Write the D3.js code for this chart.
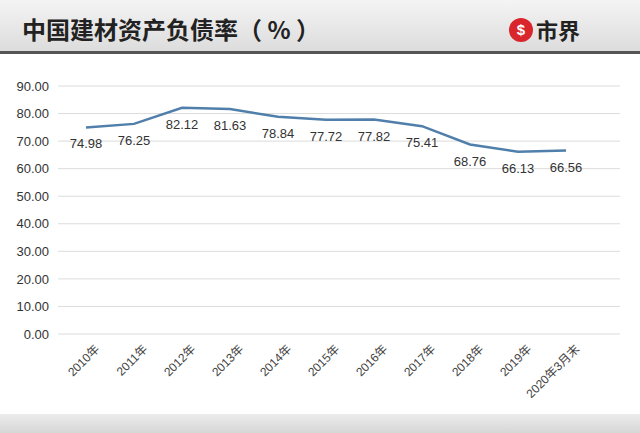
<!DOCTYPE html>
<html><head><meta charset="utf-8">
<script src="https://cdn.jsdelivr.net/npm/d3@7"></script>
<style>body{margin:0;background:#fff;font-family:"Liberation Sans",Arial,sans-serif;}</style>
</head><body>
<script>
var categories = ["2010年","2011年","2012年","2013年","2014年","2015年","2016年","2017年","2018年","2019年","2020年3月末"];
var values = [74.98, 76.25, 82.12, 81.63, 78.84, 77.72, 77.82, 75.41, 68.76, 66.13, 66.56];
var yTicks = [0,10,20,30,40,50,60,70,80,90];

var W = 640, H = 433;
var svg = d3.select("body").append("svg").attr("width", W).attr("height", H);

// header band
var grad = svg.append("defs").append("linearGradient").attr("id","hg").attr("x1",0).attr("y1",0).attr("x2",0).attr("y2",1);
grad.append("stop").attr("offset","0%").attr("stop-color","#f4f4f4");
grad.append("stop").attr("offset","100%").attr("stop-color","#dcdcdc");
svg.append("rect").attr("width", W).attr("height", 52).attr("fill","url(#hg)");
svg.append("rect").attr("y", 51).attr("width", W).attr("height", 3).attr("fill","#555");
svg.append("text").attr("x", 22).attr("y", 39).attr("font-size", 24).attr("font-weight","bold")
  .attr("font-family","'Noto Sans CJK SC',sans-serif").attr("fill","#222").text("中国建材资产负债率（ % ）");
svg.append("circle").attr("cx", 521).attr("cy", 30).attr("r", 12).attr("fill","#d9262c");
svg.append("text").attr("x", 521).attr("y", 35).attr("text-anchor","middle").attr("font-size",15).attr("font-weight","bold").attr("fill","#fff").text("$");
svg.append("text").attr("x", 536).attr("y", 39).attr("font-size", 22).attr("font-weight","bold")
  .attr("font-family","'Noto Sans CJK SC',sans-serif").attr("fill","#222").text("市界");

// bottom band
var g2 = svg.append("defs").append("linearGradient").attr("id","bg").attr("x1",0).attr("y1",0).attr("x2",0).attr("y2",1);
g2.append("stop").attr("offset","0%").attr("stop-color","#ececec");
g2.append("stop").attr("offset","100%").attr("stop-color","#d6d6d6");
svg.append("rect").attr("y", 414).attr("width", W).attr("height", 19).attr("fill","url(#bg)");

var x = d3.scalePoint().domain(categories).range([86, 566]);
var y = d3.scaleLinear().domain([0, 90]).range([334, 86]);

svg.append("g").selectAll("line").data(yTicks).join("line")
  .attr("x1", 58).attr("x2", 620).attr("y1", d => y(d)).attr("y2", d => y(d))
  .attr("stroke","#dcdcdc").attr("stroke-width",1);

var yAxis = svg.append("g").attr("transform","translate(52,0)")
  .call(d3.axisLeft(y).tickValues(yTicks).tickFormat(d3.format(".2f")).tickSize(0));
yAxis.select(".domain").remove();
yAxis.selectAll("text").attr("font-size", 13).attr("fill","#333").attr("text-anchor","end").attr("dx", 0);

var xAxis = svg.append("g").attr("transform","translate(4,340)")
  .call(d3.axisBottom(x).tickSize(0));
xAxis.select(".domain").remove();
xAxis.selectAll("text").attr("font-size", 12).attr("fill","#444")
  .attr("font-family","'Liberation Sans','Noto Sans CJK SC',sans-serif")
  .attr("text-anchor","end").attr("transform","rotate(-45)").attr("dx", 0).attr("dy", "0.9em");

svg.append("path").datum(values)
  .attr("fill","none").attr("stroke","#4f7faa").attr("stroke-width",2.5)
  .attr("d", d3.line().x((d,i) => x(categories[i])).y(d => y(d)));

svg.append("g").selectAll("text").data(values).join("text")
  .attr("x", (d,i) => x(categories[i])).attr("y", d => y(d) + 21)
  .attr("text-anchor","middle").attr("font-size", 13).attr("fill","#333")
  .text(d => d.toFixed(2));
</script>
</body></html>
